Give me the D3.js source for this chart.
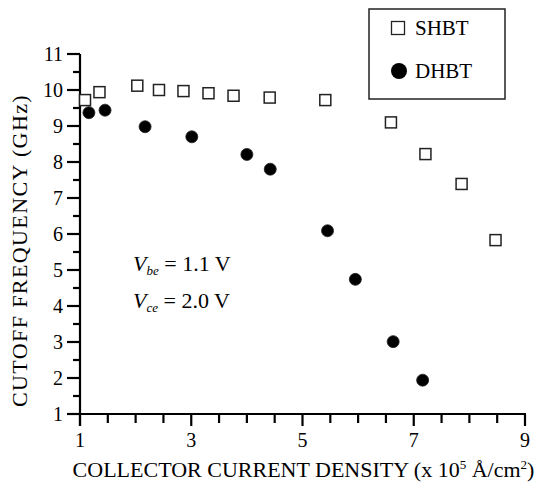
<!DOCTYPE html>
<html><head><meta charset="utf-8">
<script src="https://cdn.jsdelivr.net/npm/d3@7"></script>
<style>body{margin:0;background:#fff}svg text{font-family:"Liberation Serif","Times New Roman",serif}</style>
</head><body>
<svg id="c" width="538" height="491"></svg>
<script>
const shbtX = [1.09,1.35,2.03,2.42,2.86,3.31,3.76,4.41,5.41,6.59,7.21,7.86,8.47];
const shbtY = [9.72,9.94,10.12,10.0,9.97,9.91,9.84,9.79,9.72,9.10,8.22,7.39,5.83];
const dhbtX = [1.16,1.45,2.17,3.01,4.00,4.42,5.45,5.95,6.63,7.16];
const dhbtY = [9.37,9.44,8.98,8.70,8.21,7.80,6.09,4.74,3.01,1.94];
const xTickLabels = [1,3,5,7,9];
const yTickLabels = [1,2,3,4,5,6,7,8,9,10,11];
const seriesNames = ["SHBT","DHBT"];

const svg = d3.select("#c");
const x = d3.scaleLinear().domain([1,9]).range([80,525]);
const y = d3.scaleLinear().domain([1,11]).range([414,54]);
const TICKFS = 20, TITLEFS = 22;

// x axis
const gx = svg.append("g");
gx.append("line").attr("x1",x(1)).attr("x2",x(9)+1).attr("y1",y(1)).attr("y2",y(1)).attr("stroke","#000").attr("stroke-width",2.2);
const xt = d3.range(1,9.01,0.5);
gx.selectAll("line.t").data(xt).join("line").attr("class","t")
  .attr("x1",d=>x(d)).attr("x2",d=>x(d)).attr("y1",y(1))
  .attr("y2",d=>xTickLabels.includes(d)?y(1)+12:y(1)+9)
  .attr("stroke","#000").attr("stroke-width",2.2);
gx.selectAll("text").data(xTickLabels).join("text")
  .attr("x",d=>x(d)).attr("y",447).attr("text-anchor","middle").attr("font-size",TICKFS).text(d=>d);

// y axis
const gy = svg.append("g");
gy.append("line").attr("x1",x(1)).attr("x2",x(1)).attr("y1",y(11)).attr("y2",y(1)+12).attr("stroke","#000").attr("stroke-width",2.2);
const yt = d3.range(1,11.01,0.5);
gy.selectAll("line.t").data(yt).join("line").attr("class","t")
  .attr("y1",d=>y(d)).attr("y2",d=>y(d)).attr("x1",x(1))
  .attr("x2",d=>Number.isInteger(d)?x(1)-13:x(1)-7)
  .attr("stroke","#000").attr("stroke-width",2.2);
gy.selectAll("text").data(yTickLabels).join("text")
  .attr("x",63).attr("y",d=>y(d)+7).attr("text-anchor","end").attr("font-size",TICKFS).text(d=>d);

// axis titles
const xtitle = svg.append("text").attr("x",303.5).attr("y",477).attr("text-anchor","middle").attr("font-size",TITLEFS);
xtitle.append("tspan").text("COLLECTOR CURRENT DENSITY (x 10");
xtitle.append("tspan").attr("font-size",13).attr("dy",-8).text("5");
xtitle.append("tspan").attr("dy",8).text(" Å/cm");
xtitle.append("tspan").attr("font-size",13).attr("dy",-8).text("2");
xtitle.append("tspan").attr("dy",8).text(")");

svg.append("text").attr("transform","translate(27,250.5) rotate(-90)").attr("text-anchor","middle")
  .attr("font-size",TITLEFS).attr("letter-spacing",1.4).text("CUTOFF FREQUENCY (GHz)");

// annotations
const a1 = svg.append("text").attr("x",133).attr("y",271).attr("font-size",TITLEFS);
a1.append("tspan").attr("font-style","italic").text("V");
a1.append("tspan").attr("font-style","italic").attr("font-size",13).attr("dy",4).text("be");
a1.append("tspan").attr("dy",-4).text(" = 1.1 V");
const a2 = svg.append("text").attr("x",133).attr("y",308).attr("font-size",TITLEFS);
a2.append("tspan").attr("font-style","italic").text("V");
a2.append("tspan").attr("font-style","italic").attr("font-size",13).attr("dy",4).text("ce");
a2.append("tspan").attr("dy",-4).text(" = 2.0 V");

// data
const S = 11;
svg.append("g").selectAll("rect").data(d3.zip(shbtX,shbtY)).join("rect")
  .attr("x",d=>x(d[0])-S/2).attr("y",d=>y(d[1])-S/2).attr("width",S).attr("height",S)
  .attr("fill","#fff").attr("stroke","#222").attr("stroke-width",1.5);
svg.append("g").selectAll("circle").data(d3.zip(dhbtX,dhbtY)).join("circle")
  .attr("cx",d=>x(d[0])).attr("cy",d=>y(d[1])).attr("r",6)
  .attr("fill","#000").attr("stroke","#222").attr("stroke-width",0.8);

// legend
const LS = 13;
const lg = svg.append("g");
lg.append("rect").attr("x",369).attr("y",9).attr("width",136).attr("height",90).attr("fill","#fff").attr("stroke","#222").attr("stroke-width",1.5);
lg.append("rect").attr("x",398-LS/2).attr("y",28-LS/2).attr("width",LS).attr("height",LS).attr("fill","#fff").attr("stroke","#222").attr("stroke-width",1.3);
lg.append("circle").attr("cx",399).attr("cy",71).attr("r",8).attr("fill","#000");
lg.append("text").attr("x",415).attr("y",35).attr("font-size",21).text(seriesNames[0]);
lg.append("text").attr("x",415).attr("y",78).attr("font-size",21).text(seriesNames[1]);
</script>
</body></html>
